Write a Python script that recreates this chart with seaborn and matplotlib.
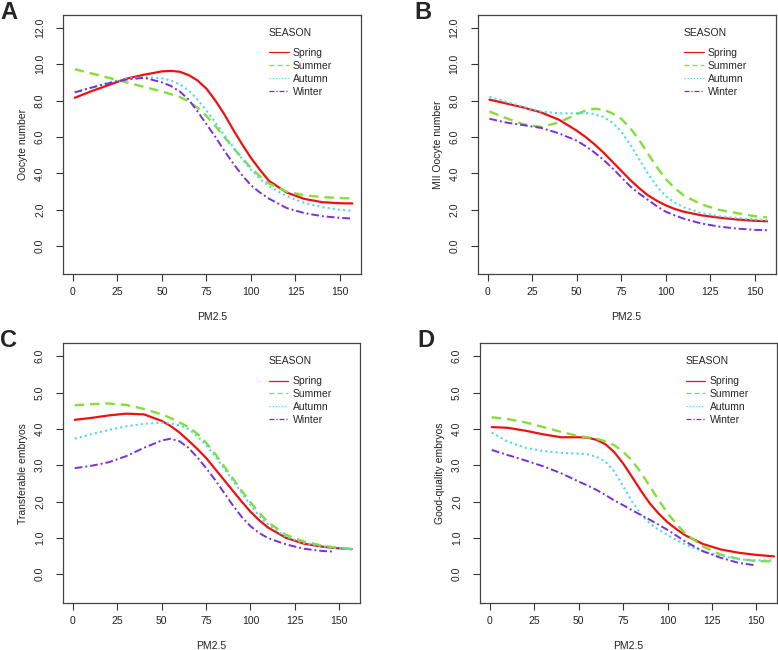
import numpy as np
import pandas as pd
import matplotlib
matplotlib.use("Agg")
import matplotlib.pyplot as plt
import seaborn as sns
from matplotlib.lines import Line2D

sns.set_style("white")
plt.rcParams['font.family'] = ['Liberation Sans', 'DejaVu Sans']

seasons = ["Spring", "Summer", "Autumn", "Winter"]
colors = {"Spring": "#EE1111", "Summer": "#86DD3A", "Autumn": "#4FD8EE", "Winter": "#7A2FDD"}
styles = {"Spring": "-", "Summer": (0, (4, 2.5)), "Autumn": (0, (1, 1.5)), "Winter": (0, (4, 1.5, 1, 1.5))}
widths = {"Spring": 1.6, "Summer": 1.7, "Autumn": 1.5, "Winter": 1.4}

# PM2.5 positions of the read-off points
pm = [1, 10, 20, 30, 40, 50, 55, 60, 65, 70, 75, 80, 85, 90, 95, 100, 105, 110, 120, 130, 140, 150, 157]
pm_c_summer = [1, 10, 20, 30, 40, 50, 55, 60, 65, 70, 75, 80, 85, 90, 95, 100, 105, 110, 120, 130, 140, 150, 160]
pm_c_winter = [1, 10, 20, 30, 40, 50, 55, 60, 65, 70, 75, 80, 85, 90, 95, 100, 105, 110, 120, 130, 140, 147]
pm_d = [1, 10, 20, 30, 40, 50, 55, 60, 65, 70, 75, 80, 85, 90, 95, 100, 105, 110, 120, 130, 140, 150, 160]
pm_d_winter = [1, 10, 20, 30, 40, 50, 55, 60, 65, 70, 75, 80, 85, 90, 95, 100, 105, 110, 120, 130, 140, 150]

# A: Oocyte number
a_spring = [8.15, 8.5, 8.85, 9.2, 9.42, 9.6, 9.63, 9.58, 9.4, 9.1, 8.65, 8.0, 7.25, 6.4, 5.6, 4.85, 4.2, 3.6, 2.95, 2.6, 2.42, 2.36, 2.35]
a_summer = [9.72, 9.5, 9.25, 9.0, 8.75, 8.5, 8.35, 8.2, 7.95, 7.6, 7.15, 6.6, 6.0, 5.4, 4.85, 4.3, 3.85, 3.45, 3.0, 2.8, 2.7, 2.65, 2.62]
a_autumn = [8.45, 8.7, 9.0, 9.2, 9.3, 9.22, 9.1, 8.9, 8.55, 8.05, 7.45, 6.8, 6.1, 5.45, 4.8, 4.2, 3.7, 3.3, 2.75, 2.38, 2.15, 2.0, 1.95]
a_winter = [8.45, 8.7, 8.95, 9.15, 9.25, 9.0, 8.8, 8.5, 8.05, 7.4, 6.7, 6.0, 5.25, 4.55, 3.9, 3.35, 2.95, 2.62, 2.1, 1.82, 1.65, 1.56, 1.52]

# B: MII Oocyte number
b_spring = [8.05, 7.85, 7.62, 7.35, 6.95, 6.35, 6.0, 5.6, 5.15, 4.65, 4.15, 3.65, 3.2, 2.8, 2.5, 2.25, 2.05, 1.9, 1.7, 1.57, 1.47, 1.4, 1.37]
b_summer = [7.4, 7.05, 6.7, 6.55, 6.8, 7.25, 7.45, 7.55, 7.5, 7.3, 7.0, 6.5, 5.85, 5.1, 4.35, 3.7, 3.2, 2.8, 2.3, 2.0, 1.82, 1.65, 1.58]
b_autumn = [8.2, 7.95, 7.65, 7.4, 7.3, 7.3, 7.32, 7.25, 7.1, 6.8, 6.3, 5.6, 4.8, 4.0, 3.3, 2.75, 2.4, 2.15, 1.82, 1.65, 1.55, 1.47, 1.43]
b_winter = [7.0, 6.8, 6.65, 6.5, 6.2, 5.8, 5.5, 5.15, 4.75, 4.3, 3.8, 3.3, 2.9, 2.55, 2.2, 1.9, 1.7, 1.52, 1.25, 1.08, 0.97, 0.9, 0.88]

# C: Transferable embryos
c_spring = [4.25, 4.3, 4.37, 4.42, 4.4, 4.22, 4.08, 3.9, 3.68, 3.45, 3.2, 2.9, 2.6, 2.3, 2.0, 1.72, 1.48, 1.28, 1.0, 0.84, 0.76, 0.71, 0.69]
c_summer = [4.65, 4.68, 4.7, 4.66, 4.55, 4.4, 4.3, 4.18, 4.05, 3.87, 3.62, 3.32, 2.98, 2.64, 2.3, 1.98, 1.68, 1.43, 1.08, 0.9, 0.79, 0.72, 0.68]
c_autumn = [3.73, 3.85, 3.97, 4.07, 4.14, 4.17, 4.15, 4.1, 4.0, 3.8, 3.55, 3.25, 2.92, 2.58, 2.24, 1.9, 1.6, 1.36, 1.03, 0.86, 0.77, 0.71, 0.69]
c_winter = [2.92, 2.98, 3.08, 3.25, 3.48, 3.68, 3.73, 3.66, 3.48, 3.22, 2.92, 2.6, 2.25, 1.9, 1.58, 1.32, 1.13, 0.99, 0.82, 0.7, 0.64, 0.62]

# D: Good-quality embryos
d_spring = [4.05, 4.03, 3.95, 3.85, 3.77, 3.77, 3.76, 3.7, 3.58, 3.36, 3.05, 2.68, 2.3, 1.95, 1.67, 1.43, 1.24, 1.07, 0.83, 0.68, 0.59, 0.53, 0.49]
d_summer = [4.32, 4.27, 4.18, 4.05, 3.92, 3.8, 3.77, 3.73, 3.66, 3.55, 3.37, 3.13, 2.8, 2.42, 2.04, 1.68, 1.38, 1.12, 0.76, 0.54, 0.42, 0.36, 0.35]
d_autumn = [3.9, 3.65, 3.48, 3.39, 3.34, 3.32, 3.3, 3.23, 3.1, 2.83, 2.42, 2.0, 1.65, 1.4, 1.22, 1.08, 0.94, 0.82, 0.63, 0.5, 0.41, 0.38, 0.38]
d_winter = [3.42, 3.28, 3.13, 2.97, 2.78, 2.55, 2.44, 2.32, 2.18, 2.03, 1.9, 1.76, 1.63, 1.5, 1.36, 1.22, 1.06, 0.9, 0.63, 0.45, 0.31, 0.24]

panels = [
    ("A", "Oocyte number", [0, 2, 4, 6, 8, 10, 12], (-1.54, 12.7),
     {"Spring": (pm, a_spring), "Summer": (pm, a_summer), "Autumn": (pm, a_autumn), "Winter": (pm, a_winter)},
     [0.081, 0.578, 0.383, 0.399]),
    ("B", "MII Oocyte number", [0, 2, 4, 6, 8, 10, 12], (-1.54, 12.7),
     {"Spring": (pm, b_spring), "Summer": (pm, b_summer), "Autumn": (pm, b_autumn), "Winter": (pm, b_winter)},
     [0.614, 0.578, 0.383, 0.399]),
    ("C", "Transferable embryos", [0, 1, 2, 3, 4, 5, 6], (-0.8, 6.36),
     {"Spring": (pm, c_spring), "Summer": (pm_c_summer, c_summer), "Autumn": (pm, c_autumn), "Winter": (pm_c_winter, c_winter)},
     [0.081, 0.072, 0.382, 0.400]),
    ("D", "Good-quality embryos", [0, 1, 2, 3, 4, 5, 6], (-0.8, 6.36),
     {"Spring": (pm_d, d_spring), "Summer": (pm_d, d_summer), "Autumn": (pm_d, d_autumn), "Winter": (pm_d_winter, d_winter)},
     [0.617, 0.072, 0.382, 0.400]),
]

fig = plt.figure(figsize=(7.78, 6.5), dpi=100)

for letter, ylab, yticks, ylim, series, pos in panels:
    ax = fig.add_axes(pos)
    for s in seasons:
        xs, ys = series[s]
        df = pd.DataFrame({"PM2.5": xs, "value": ys})
        sns.lineplot(data=df, x="PM2.5", y="value", ax=ax, color=colors[s],
                     linestyle=styles[s], linewidth=widths[s], sort=False)
    ax.set_xlim(-5.6, 161.8)
    ax.set_ylim(*ylim)
    ax.set_xticks([0, 25, 50, 75, 100, 125, 150])
    ax.set_yticks(yticks)
    ax.set_yticklabels([f"{v:.1f}" for v in yticks], rotation=90, va="center")
    ax.tick_params(axis="both", direction="out", length=5, width=0.8, colors="#333333",
                   labelsize=7.5, labelcolor="#222222", pad=4, left=True, bottom=True)
    ax.tick_params(axis="y", pad=8)
    ax.set_xlabel("PM2.5", fontsize=7.5, labelpad=11, color="#222222")
    ax.set_ylabel(ylab, fontsize=7.5, labelpad=5, color="#222222")
    for sp in ax.spines.values():
        sp.set_color("#444444")
        sp.set_linewidth(0.9)
    handles = [Line2D([0], [0], color=colors[s], linestyle=styles[s], linewidth=0.9) for s in seasons]
    leg = ax.legend(handles, seasons, title="SEASON", loc="upper left", bbox_to_anchor=(0.66, 0.985),
                    frameon=False, fontsize=7.5, title_fontsize=7.5, handlelength=1.9,
                    handletextpad=0.4, labelspacing=0.28, alignment="left")
    leg._legend_box.sep = 7
    fig.text(pos[0] - 0.081, pos[1] + pos[3] + 0.022, letter, fontsize=17, fontweight="bold", va="top")

fig.savefig("out.png", dpi=100)
